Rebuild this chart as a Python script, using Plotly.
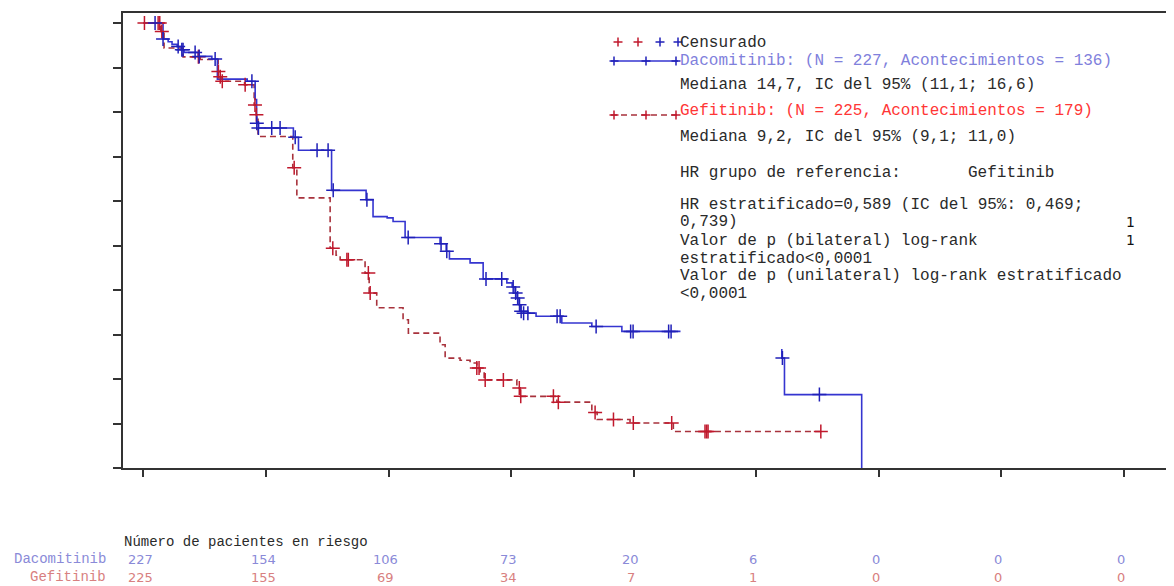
import plotly.graph_objects as go

# ---------------- data ----------------
# Kaplan-Meier steps: time (months) where survival changes, new survival level
dac_t = [0, 0.96, 1.21, 1.40, 1.65, 1.85, 1.99, 2.68, 3.35, 3.62, 5.08, 5.47, 5.54, 5.63, 7.34, 7.59,
         9.21, 10.90, 11.24, 11.93, 12.22, 12.81, 14.52, 14.82, 14.98, 15.99, 16.63, 17.79, 18.05,
         18.19, 18.29, 18.39, 18.44, 18.82, 19.22, 20.48, 21.95, 23.42, 31.25, 31.38, 35.16]
dac_s = [1.0, 0.964, 0.958, 0.952, 0.947, 0.940, 0.934, 0.925, 0.919, 0.874, 0.869, 0.828, 0.775,
         0.764, 0.743, 0.714, 0.624, 0.603, 0.565, 0.562, 0.554, 0.518, 0.504, 0.487, 0.470, 0.461,
         0.425, 0.416, 0.407, 0.393, 0.382, 0.367, 0.352, 0.348, 0.341, 0.326, 0.318, 0.307, 0.247,
         0.165, 0.0]
gef_t = [0, 0.85, 1.01, 1.94, 2.78, 3.66, 3.75, 3.85, 4.95, 5.42, 5.52, 5.61, 7.31, 7.51, 9.14, 9.43,
         9.63, 10.85, 11.05, 11.42, 12.71, 12.97, 14.52, 14.77, 15.50, 15.99, 16.32, 16.48, 16.68,
         18.28, 18.44, 20.24, 21.95, 22.21, 23.82, 25.94, 33.16]
gef_s = [1.0, 0.981, 0.944, 0.924, 0.918, 0.891, 0.879, 0.869, 0.861, 0.816, 0.794, 0.745, 0.675,
         0.607, 0.494, 0.478, 0.468, 0.438, 0.393, 0.360, 0.333, 0.303, 0.277, 0.247, 0.242, 0.236,
         0.225, 0.216, 0.198, 0.180, 0.161, 0.148, 0.125, 0.109, 0.101, 0.082, 0.082]

# censored observations
dac_ct = [0.57, 0.96, 1.70, 1.88, 1.94, 2.53, 2.73, 3.51, 5.31, 5.55, 5.63, 6.28, 6.69, 7.43, 8.50,
          9.04, 9.29, 10.94, 12.96, 14.57, 14.85, 16.77, 17.54, 18.10, 18.22, 18.32, 18.41, 18.49,
          18.61, 18.82, 20.25, 20.40, 22.16, 23.85, 23.97, 25.71, 25.83, 31.28, 33.09]
dac_cs = [1.0, 0.964, 0.947, 0.940, 0.940, 0.934, 0.925, 0.919, 0.869, 0.775, 0.764, 0.764, 0.764,
          0.743, 0.714, 0.714, 0.624, 0.603, 0.518, 0.504, 0.487, 0.425, 0.425, 0.407, 0.393, 0.382,
          0.367, 0.352, 0.348, 0.348, 0.341, 0.341, 0.318, 0.307, 0.307, 0.307, 0.307, 0.247, 0.165]
gef_ct = [0.05, 0.72, 0.80, 0.90, 2.69, 3.67, 3.76, 3.86, 4.98, 5.46, 5.53, 7.38, 9.27, 9.96, 10.03,
          11.01, 11.10, 16.32, 16.43, 16.73, 17.62, 18.40, 18.47, 20.07, 20.31, 22.11, 23.01, 23.98,
          25.86, 27.49, 27.57, 27.64, 33.16]
gef_cs = [1.0, 1.0, 1.0, 0.981, 0.924, 0.891, 0.879, 0.869, 0.861, 0.816, 0.794, 0.675, 0.494, 0.468,
          0.468, 0.438, 0.393, 0.225, 0.225, 0.198, 0.198, 0.180, 0.161, 0.161, 0.148, 0.125, 0.109,
          0.101, 0.101, 0.082, 0.082, 0.082, 0.082]

# number at risk table
risk_months = [0, 6, 12, 18, 24, 30, 36, 42, 48]
dac_risk = [227, 154, 106, 73, 20, 6, 0, 0, 0]
gef_risk = [225, 155, 69, 34, 7, 1, 0, 0, 0]
y_ticks = [0, 0.1, 0.2, 0.3, 0.4, 0.5, 0.6, 0.7, 0.8, 0.9, 1.0]

# ---------------- styling ----------------
OFF = 8                       # page body margin in the browser
W, H = 1174, 586 - OFF        # figure size
L, R, T, B = 123, 1182, 13, 468   # plot area in page pixels (runs past the window's right edge)
MONO = "Courier New, Liberation Mono, monospace"
BLUE_L, BLUE_M = "#3535d0", "#2020b8"
RED_L, RED_M = "#a8323c", "#c0182c"
DASH = "6px,4px"


def pxx(x):
    return (x - L) / (R - L)


def pxy(y):
    return (B - y) / (B - T)


fig = go.Figure()
fig.add_trace(go.Scatter(x=gef_t, y=gef_s, mode="lines", line=dict(color=RED_L, width=1.6, dash=DASH, shape="hv"),
                         hoverinfo="skip", showlegend=False))
fig.add_trace(go.Scatter(x=dac_t, y=dac_s, mode="lines", line=dict(color=BLUE_L, width=1.6, shape="hv"),
                         hoverinfo="skip", showlegend=False))
fig.add_trace(go.Scatter(x=gef_ct, y=gef_cs, mode="markers",
                         marker=dict(symbol="cross-thin", size=10, line=dict(color=RED_M, width=1.5)),
                         hoverinfo="skip", showlegend=False))
fig.add_trace(go.Scatter(x=dac_ct, y=dac_cs, mode="markers",
                         marker=dict(symbol="cross-thin", size=10, line=dict(color=BLUE_M, width=1.5)),
                         hoverinfo="skip", showlegend=False))

shapes = []
# white text box of the legend (hides the curve beneath it)
shapes.append(dict(type="rect", xref="paper", yref="paper", x0=pxx(680.5), x1=pxx(1176), y0=pxy(349), y1=pxy(28),
                   fillcolor="white", line=dict(width=0), layer="above"))
# legend swatches
shapes.append(dict(type="line", xref="paper", yref="paper", x0=pxx(611), x1=pxx(678), y0=pxy(61), y1=pxy(61),
                   line=dict(color=BLUE_L, width=1.6), layer="above"))
shapes.append(dict(type="line", xref="paper", yref="paper", x0=pxx(611), x1=pxx(678), y0=pxy(115), y1=pxy(115),
                   line=dict(color=RED_L, width=1.6, dash=DASH), layer="above"))


def cross(x, y, color):
    h = 4.5
    shapes.append(dict(type="line", xref="paper", yref="paper", x0=pxx(x - h), x1=pxx(x + h), y0=pxy(y), y1=pxy(y),
                       line=dict(color=color, width=1.5), layer="above"))
    shapes.append(dict(type="line", xref="paper", yref="paper", x0=pxx(x), x1=pxx(x), y0=pxy(y - h), y1=pxy(y + h),
                       line=dict(color=color, width=1.5), layer="above"))


for cx, cc in [(618, RED_M), (638, RED_M), (660, BLUE_M), (678, BLUE_M)]:
    cross(cx, 42, cc)
for cx in [614, 646, 676]:
    cross(cx, 61, BLUE_M)
for cx in [614, 646, 676]:
    cross(cx, 115, RED_M)

ann = []


def txt(x, y, s, color="#2a2a2a", size=16, anchor="left"):
    ann.append(dict(x=pxx(x), y=pxy(y), xref="paper", yref="paper", text=s, showarrow=False,
                    xanchor=anchor, yanchor="middle", font=dict(family=MONO, size=size, color=color),
                    borderpad=0, borderwidth=0))


TX = 680
txt(TX, 43, "Censurado")
txt(TX, 61, "Dacomitinib: (N = 227, Acontecimientos = 136)", color="#8080dc")
txt(TX, 85, "Mediana 14,7, IC del 95% (11,1; 16,6)")
txt(TX, 111, "Gefitinib: (N = 225, Acontecimientos = 179)", color="#ff3636")
txt(TX, 137, "Mediana 9,2, IC del 95% (9,1; 11,0)")
txt(TX, 173, "HR grupo de referencia:")
txt(968, 173, "Gefitinib")
txt(TX, 205, "HR estratificado=0,589 (IC del 95%: 0,469;")
txt(TX, 222, "0,739)")
txt(TX, 241, "Valor de p (bilateral) log-rank")
txt(TX, 259, "estratificado&lt;0,0001")
txt(TX, 276, "Valor de p (unilateral) log-rank estratificado")
txt(TX, 294, "&lt;0,0001")
ann.append(dict(x=pxx(1130), y=pxy(222), xref="paper", yref="paper", text="1", showarrow=False,
                xanchor="center", yanchor="middle", font=dict(family="DejaVu Sans", size=14, color="#111")))
ann.append(dict(x=pxx(1130), y=pxy(240), xref="paper", yref="paper", text="1", showarrow=False,
                xanchor="center", yanchor="middle", font=dict(family="DejaVu Sans", size=14, color="#111")))

# risk table
txt(124, 542, "Número de pacientes en riesgo", size=14)
txt(106, 559, "Dacomitinib", color="#8a8ad8", size=14, anchor="right")
txt(106, 577, "Gefitinib", color="#d88080", size=14, anchor="right")
for m, d, g in zip(risk_months, dac_risk, gef_risk):
    ann.append(dict(x=m, y=pxy(559), xref="x", yref="paper", text=str(d), showarrow=False, xshift=-3,
                    xanchor="center", yanchor="middle", font=dict(family="DejaVu Sans", size=13, color="#8a8ad8")))
    ann.append(dict(x=m, y=pxy(577), xref="x", yref="paper", text=str(g), showarrow=False, xshift=-3,
                    xanchor="center", yanchor="middle", font=dict(family="DejaVu Sans", size=13, color="#d88080")))

fig.update_layout(
    width=W, height=H,
    margin=dict(l=L - OFF, r=(W + OFF) - R, t=T - OFF, b=586 - B, pad=0),
    plot_bgcolor="white", paper_bgcolor="white",
    shapes=shapes, annotations=ann,
    xaxis=dict(range=[-1.0, 50.84], tickvals=risk_months, ticks="outside", ticklen=7, tickwidth=1.5,
               tickcolor="#333", showticklabels=False, showline=True, linecolor="#333", linewidth=2,
               mirror=True, showgrid=False, zeroline=False),
    yaxis=dict(range=[0, 1.0225], tickvals=y_ticks, ticks="outside", ticklen=8, tickwidth=1.5,
               tickcolor="#333", showticklabels=False, showline=True, linecolor="#333", linewidth=2,
               showgrid=False, zeroline=False),
)

fig.write_html("out.html")
